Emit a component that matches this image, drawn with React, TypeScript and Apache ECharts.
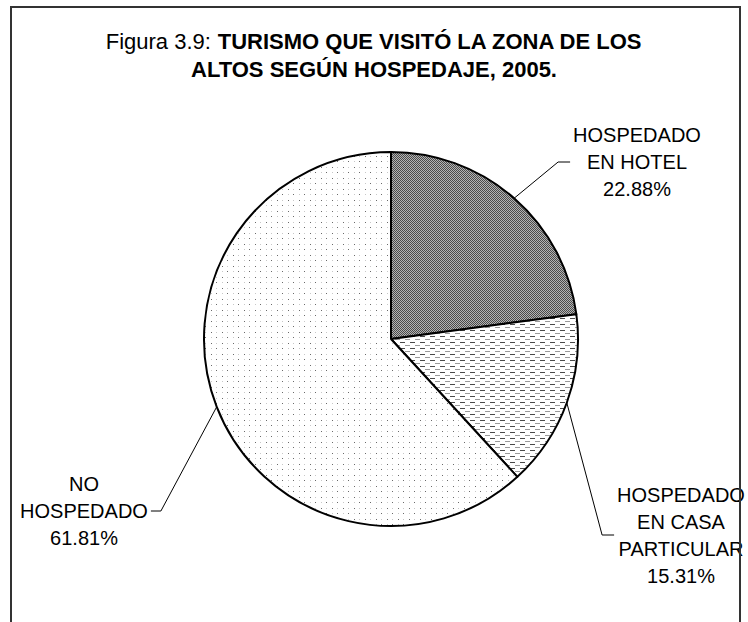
import React, { useEffect, useRef } from 'react';
import * as echarts from 'echarts';

// ---- data ----
const TITLE_PREFIX = 'Figura 3.9: ';
const TITLE_LINE1 = 'TURISMO QUE VISITÓ LA ZONA DE LOS';
const TITLE_LINE2 = 'ALTOS SEGÚN HOSPEDAJE, 2005.';
const CATEGORIES = ['HOSPEDADO\nEN HOTEL', 'HOSPEDADO\nEN CASA\nPARTICULAR', 'NO\nHOSPEDADO'];
const VALUES = [22.88, 15.31, 61.81];

// ---- layout / style ----
const FONT = '"Liberation Sans", Arial, Helvetica, sans-serif';
const LABEL_POS = [
  { x: 637, y: 162, side: 'right' },
  { x: 681, y: 535, side: 'right' },
  { x: 84, y: 511, side: 'left' },
];

type Px = [number, number, number, number, string];
function makePattern(w: number, h: number, bg: string, pixels: Px[]) {
  const c = document.createElement('canvas');
  c.width = w;
  c.height = h;
  const ctx = c.getContext('2d')!;
  ctx.fillStyle = bg;
  ctx.fillRect(0, 0, w, h);
  for (const [x, y, pw, ph, col] of pixels) {
    ctx.fillStyle = col;
    ctx.fillRect(x, y, pw, ph);
  }
  return { image: c, repeat: 'repeat', imageWidth: w, imageHeight: h } as any;
}

export default function App() {
  const ref = useRef<HTMLDivElement>(null);
  useEffect(() => {
    if (!ref.current) return;
    const chart = echarts.init(ref.current, undefined, { renderer: 'svg' });
    const patterns = [
      makePattern(2, 2, '#b4b4b4', [
        [0, 0, 1, 1, '#4a4a4a'],
        [1, 1, 1, 1, '#4a4a4a'],
      ]),
      makePattern(10, 6, '#ffffff', [
        [0, 0, 5, 1, '#4a4a4a'],
        [5, 3, 5, 1, '#9a9a9a'],
      ]),
      makePattern(11, 11, '#ffffff', [
        [2, 2, 1, 1, '#6a6a6a'],
        [7, 7, 1, 1, '#6a6a6a'],
        [7, 2, 1, 1, '#c8c8c8'],
        [2, 7, 1, 1, '#c8c8c8'],
      ]),
    ];
    const richBase = { fontFamily: FONT, fontSize: 22, color: '#000', lineHeight: 28, align: 'center' };
    const option: any = {
      animation: false,
      backgroundColor: '#fff',
      title: {
        text: `{n|${TITLE_PREFIX}}{b|${TITLE_LINE1}}\n{b|${TITLE_LINE2}}`,
        left: 'center',
        top: 27,
        padding: 0,
        textStyle: {
          rich: {
            n: { ...richBase, fontWeight: 'normal' },
            b: { ...richBase, fontWeight: 'bold' },
          },
        },
      },
      graphic: [
        {
          type: 'rect',
          silent: true,
          z: 100,
          shape: { x: 11, y: 7, width: 729, height: 700 },
          style: { fill: 'none', stroke: '#333', lineWidth: 2 },
        },
      ],
      series: [
        {
          type: 'pie',
          center: [391, 339],
          radius: 187,
          startAngle: 90,
          clockwise: true,
          avoidLabelOverlap: false,
          emphasis: { disabled: true },
          itemStyle: { borderColor: '#000', borderWidth: 2 },
          label: {
            show: true,
            position: 'outside',
            fontFamily: FONT,
            fontSize: 20,
            lineHeight: 27,
            color: '#000',
            align: 'center',
            formatter: (p: any) => `${p.name}\n${Number(p.value).toFixed(2)}%`,
          },
          labelLine: { show: true, length: 10, length2: 10, smooth: false, lineStyle: { color: '#000', width: 1 } },
          labelLayout: (params: any) => {
            const p = LABEL_POS[params.dataIndex];
            const hw = params.labelRect.width / 2;
            const start = params.labelLinePoints ? params.labelLinePoints[0] : null;
            let end: number[];
            let bend: number[];
            if (p.side === 'right') {
              end = [p.x - hw - 3, p.y];
              bend = [end[0] - 12, p.y];
            } else {
              end = [p.x + hw + 3, p.y];
              bend = [end[0] + 10, p.y];
            }
            const out: any = { x: p.x, y: p.y, align: 'center', verticalAlign: 'middle' };
            if (start) out.labelLinePoints = [start, bend, end];
            return out;
          },
          data: CATEGORIES.map((name, i) => ({
            name,
            value: VALUES[i],
            itemStyle: { color: patterns[i] },
          })),
        },
      ],
    };
    chart.setOption(option);
    return () => chart.dispose();
  }, []);
  return (
    <div
      ref={ref}
      style={{ position: 'absolute', left: 0, top: 0, width: 748, height: 622, background: '#fff' }}
    />
  );
}
